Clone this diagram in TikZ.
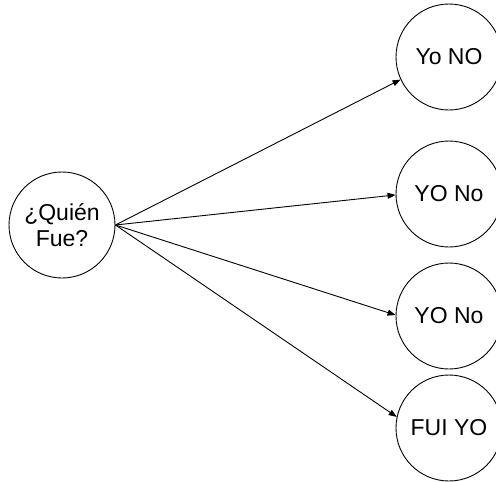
\documentclass[tikz,border=0pt]{standalone}
\usepackage{fontspec}
\setmainfont{Liberation Sans}
\usetikzlibrary{arrows.meta}
\begin{document}
\begin{tikzpicture}[x=1pt,y=-1pt,
  state/.style={circle,draw,line width=0.9pt,minimum size=106pt,inner sep=0pt,
    font=\fontsize{23}{26}\selectfont,align=center},
  link/.style={line width=0.9pt,-{Triangle[length=8pt,width=6pt]}}]
\useasboundingbox (0,0) rectangle (496,482);
% question and the four answers
\node[state] (q) at (62,225) {¿Quién\\Fue?};
\node[state] (a1) at (449,57)  {Yo NO};
\node[state] (a2) at (449,194) {YO No};
\node[state] (a3) at (449,316) {YO No};
\node[state] (a4) at (449,428) {FUI YO};
% connectors from the question to each answer
\draw[link] (q.east) -- (a1.205);
\draw[link] (q.east) -- (a2.181);
\draw[link] (q.east) -- (a3.179);
\draw[link] (q.east) -- (a4.168);
\end{tikzpicture}
\end{document}
